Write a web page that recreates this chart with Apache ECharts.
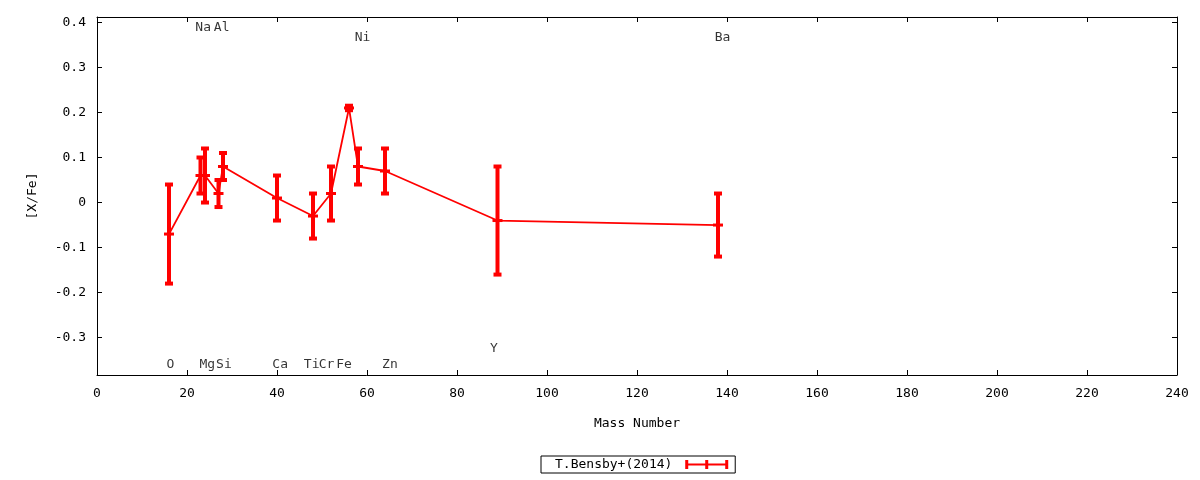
<!DOCTYPE html>
<html>
<head>
<meta charset="utf-8">
<script src="https://cdn.jsdelivr.net/npm/echarts@6/dist/echarts.min.js"></script>
<style>
  html, body { margin: 0; padding: 0; background: #fff; }
  #chart { width: 1200px; height: 480px; }
</style>
</head>
<body>
<div id="chart"></div>
<script>
// dados: massa, [X/Fe] e erro
var elementos = ['O', 'Na', 'Mg', 'Al', 'Si', 'Ca', 'Ti', 'Cr', 'Fe', 'Ni', 'Zn', 'Y', 'Ba'];
var massas = [16, 23, 24, 27, 28, 40, 48, 52, 56, 58, 64, 89, 138];
var valores = [-0.07, 0.06, 0.06, 0.02, 0.08, 0.01, -0.03, 0.02, 0.21, 0.08, 0.07, -0.04, -0.05];
var erros = [0.11, 0.04, 0.06, 0.03, 0.03, 0.05, 0.05, 0.06, 0.005, 0.04, 0.05, 0.12, 0.07];

// rotulos dos elementos (posicao em coordenadas do grafico)
var rotulos = ['O', 'Na', 'Mg', 'Al', 'Si', 'Ca', 'Ti', 'Cr', 'Fe', 'Ni', 'Zn', 'Y', 'Ba'];
var rotulosX = [16.3, 23.6, 24.5, 27.7, 28.2, 40.7, 47.7, 51.0, 54.9, 59.0, 65.1, 88.2, 139.0];
var rotulosY = [-0.36, 0.388, -0.36, 0.388, -0.36, -0.36, -0.36, -0.36, -0.36, 0.367, -0.36, -0.325, 0.367];

var yTicks = [-0.3, -0.2, -0.1, 0, 0.1, 0.2, 0.3, 0.4];
var nomeSerie = 'T.Bensby+(2014)';

var fonte = 'DejaVu Sans Mono';
var vermelho = '#ff0000';

var dom = document.getElementById('chart');
var chart = echarts.init(dom, null, { renderer: 'canvas' });

var dadosLinha = massas.map(function (m, i) { return [m, valores[i]]; });
var dadosErro = massas.map(function (m, i) { return [m, valores[i], erros[i]]; });
var dadosRotulos = rotulos.map(function (r, i) { return { name: r, value: [rotulosX[i], rotulosY[i]] }; });

function desenhaErro(params, api) {
    var x = api.value(0), y = api.value(1), e = api.value(2);
    var topo = api.coord([x, y + e]);
    var base = api.coord([x, y - e]);
    var centro = api.coord([x, y]);
    var estilo = { fill: vermelho };
    return {
        type: 'group',
        children: [
            { type: 'rect', shape: { x: topo[0] - 2, y: topo[1], width: 4, height: base[1] - topo[1] }, style: estilo },
            { type: 'rect', shape: { x: topo[0] - 4, y: topo[1] - 2, width: 8, height: 4 }, style: estilo },
            { type: 'rect', shape: { x: base[0] - 4, y: base[1] - 2, width: 8, height: 4 }, style: estilo },
            { type: 'rect', shape: { x: centro[0] - 5, y: centro[1] - 1.5, width: 10, height: 3 }, style: estilo }
        ]
    };
}

var eixoTexto = { color: '#000', fontFamily: fonte, fontSize: 13 };

chart.setOption({
    animation: false,
    textStyle: { fontFamily: fonte, color: '#000' },
    grid: { left: 97, right: 23, top: 17, bottom: 105, show: false },
    legend: {
        left: 541,
        top: 456,
        padding: [2, 7, 2, 14],
        borderColor: '#000',
        borderWidth: 1,
        borderRadius: 0,
        align: 'right',
        itemWidth: 43,
        itemHeight: 9,
        selectedMode: false,
        formatter: function (n) { return n + ' '; },
        textStyle: eixoTexto,
        data: [{
            name: nomeSerie,
            icon: 'path://M0,0H3V9H0Z M40,0H43V9H40Z M20,0H23V9H20Z M0,3.5H43V5.5H0Z',
            itemStyle: { color: vermelho, borderWidth: 0 }
        }]
    },
    xAxis: [
        {
            type: 'value',
            min: 0, max: 240, interval: 20,
            name: 'Mass Number',
            nameLocation: 'middle',
            nameGap: 42,
            nameTextStyle: eixoTexto,
            axisLine: { show: true, onZero: false, lineStyle: { color: '#000', width: 1 } },
            axisTick: { show: true, inside: true, length: 5, lineStyle: { color: '#000' } },
            axisLabel: { show: true, margin: 12, color: '#000', fontFamily: fonte, fontSize: 13 },
            splitLine: { show: false }
        },
        {
            type: 'value', position: 'top',
            min: 0, max: 240, interval: 20,
            axisLine: { show: true, onZero: false, lineStyle: { color: '#000', width: 1 } },
            axisTick: { show: true, inside: true, length: 5, lineStyle: { color: '#000' } },
            axisLabel: { show: false },
            splitLine: { show: false }
        }
    ],
    yAxis: [
        {
            type: 'value',
            min: -0.383, max: 0.412,
            name: '[X/Fe]',
            nameLocation: 'middle',
            nameGap: 58,
            nameTextStyle: eixoTexto,
            axisLine: { show: true, onZero: false, lineStyle: { color: '#000', width: 1 } },
            axisTick: { show: true, inside: true, length: 5, customValues: yTicks, lineStyle: { color: '#000' } },
            axisLabel: {
                show: true, margin: 11, color: '#000', fontFamily: fonte, fontSize: 13,
                customValues: yTicks,
                formatter: function (v) { return String(v); }
            },
            splitLine: { show: false }
        },
        {
            type: 'value', position: 'right',
            min: -0.383, max: 0.412,
            axisLine: { show: true, onZero: false, lineStyle: { color: '#000', width: 1 } },
            axisTick: { show: true, inside: true, length: 5, customValues: yTicks, lineStyle: { color: '#000' } },
            axisLabel: { show: false },
            splitLine: { show: false }
        }
    ],
    series: [
        {
            name: nomeSerie,
            type: 'line',
            color: vermelho,
            showSymbol: false,
            smooth: false,
            lineStyle: { color: vermelho, width: 1.8 },
            data: dadosLinha,
            z: 2
        },
        {
            name: nomeSerie,
            type: 'custom',
            color: vermelho,
            renderItem: desenhaErro,
            data: dadosErro,
            z: 3
        },
        {
            name: 'rotulos',
            type: 'scatter',
            symbolSize: 0,
            silent: true,
            data: dadosRotulos,
            label: {
                show: true,
                position: 'inside',
                formatter: function (p) { return p.name; },
                color: '#000',
                fontFamily: fonte,
                fontSize: 13
            }
        }
    ]
});

window.addEventListener('resize', chart.resize);
</script>
</body>
</html>
